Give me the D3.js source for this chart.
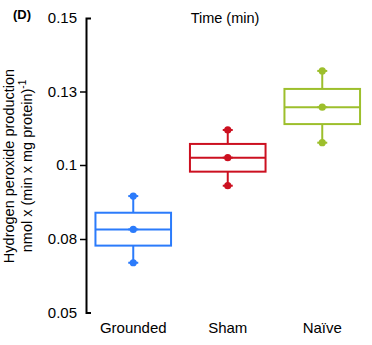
<!DOCTYPE html>
<html><head><meta charset="utf-8">
<script src="https://cdn.jsdelivr.net/npm/d3@7"></script>
<style>body{margin:0;background:#fff}svg{display:block;font-family:"Liberation Sans",Arial,sans-serif}</style>
</head><body>
<script>
const categories = ["Grounded", "Sham", "Naïve"];
const whiskerLow  = [0.0703, 0.0944, 0.1091];
const boxLow      = [0.0773, 0.0982, 0.1167];
const medians     = [0.0826, 0.1030, 0.1236];
const boxHigh     = [0.0871, 0.1086, 0.1307];
const whiskerHigh = [0.0916, 0.1143, 0.1356];
const colors = ["#2b7bfb", "#cc1020", "#9dbf2c"];
const yTicks = [0.05, 0.08, 0.1, 0.13, 0.15];
const yTickLabels = ["0.05", "0.08", "0.1", "0.13", "0.15"];

const W = 372, H = 345;
const svg = d3.select("body").append("svg").attr("width", W).attr("height", H);

const x = d3.scaleBand().domain(categories).range([86, 369.5]).paddingInner(0.2).paddingOuter(0.1);
const yRange = [312.5, 239, 165, 91.5, 18];
const y = d3.scaleLinear().domain(yTicks).range(yRange);

// axis
const axis = d3.axisLeft(y).tickValues(yTicks).tickFormat((d, i) => yTickLabels[i])
  .tickSizeInner(6).tickSizeOuter(-5).tickPadding(3);
const ag = svg.append("g").attr("transform", "translate(86,0)").call(axis);
ag.select(".domain").attr("stroke", "#000").attr("stroke-width", 2);
ag.selectAll(".tick line").attr("stroke", "#000").attr("stroke-width", 1.5)
  .attr("display", d => (d === 0.05 || d === 0.15) ? "none" : null);
ag.selectAll(".tick text").attr("font-size", 15).attr("fill", "#000")
  .attr("font-family", '"Liberation Sans",Arial,sans-serif');

// category labels
svg.append("g").selectAll("text").data(categories).join("text")
  .attr("x", d => x(d) + x.bandwidth() / 2).attr("y", 333)
  .attr("text-anchor", "middle").attr("font-size", 15).text(d => d);

// boxes
const g = svg.append("g").selectAll("g").data(categories).join("g");
g.each(function(c, i) {
  const s = d3.select(this);
  const cx = x(c) + x.bandwidth() / 2;
  const col = colors[i];
  s.append("line").attr("x1", cx).attr("x2", cx).attr("y1", y(whiskerHigh[i])).attr("y2", y(boxHigh[i]))
    .attr("stroke", col).attr("stroke-width", 2);
  s.append("line").attr("x1", cx).attr("x2", cx).attr("y1", y(boxLow[i])).attr("y2", y(whiskerLow[i]))
    .attr("stroke", col).attr("stroke-width", 2);
  s.append("rect").attr("x", x(c)).attr("width", x.bandwidth())
    .attr("y", y(boxHigh[i])).attr("height", y(boxLow[i]) - y(boxHigh[i]))
    .attr("fill", "none").attr("stroke", col).attr("stroke-width", 2);
  s.append("line").attr("x1", x(c)).attr("x2", x(c) + x.bandwidth())
    .attr("y1", y(medians[i])).attr("y2", y(medians[i])).attr("stroke", col).attr("stroke-width", 2);
  [whiskerHigh[i], whiskerLow[i], medians[i]].forEach(v => {
    s.append("line").attr("x1", cx - 5).attr("x2", cx + 5).attr("y1", y(v)).attr("y2", y(v))
      .attr("stroke", col).attr("stroke-width", 2);
    s.append("circle").attr("cx", cx).attr("cy", y(v)).attr("r", 3.6).attr("fill", col);
  });
});

// title
svg.append("text").attr("x", 225).attr("y", 23).attr("text-anchor", "middle").attr("font-size", 14.5).text("Time (min)");
svg.append("text").attr("x", 13).attr("y", 19).attr("font-size", 13).attr("font-weight", "bold").text("(D)");

// y label
const yl = svg.append("text").attr("transform", "translate(0,166) rotate(-90)").attr("text-anchor", "middle").attr("font-size", 14.5);
yl.append("tspan").attr("x", 0).attr("y", 14).text("Hydrogen peroxide production");
const t2 = yl.append("tspan").attr("x", 0).attr("y", 32);
t2.text("nmol x (min x mg protein)");
yl.append("tspan").attr("dy", -6).attr("font-size", 10).text("-1");
</script>
</body></html>
